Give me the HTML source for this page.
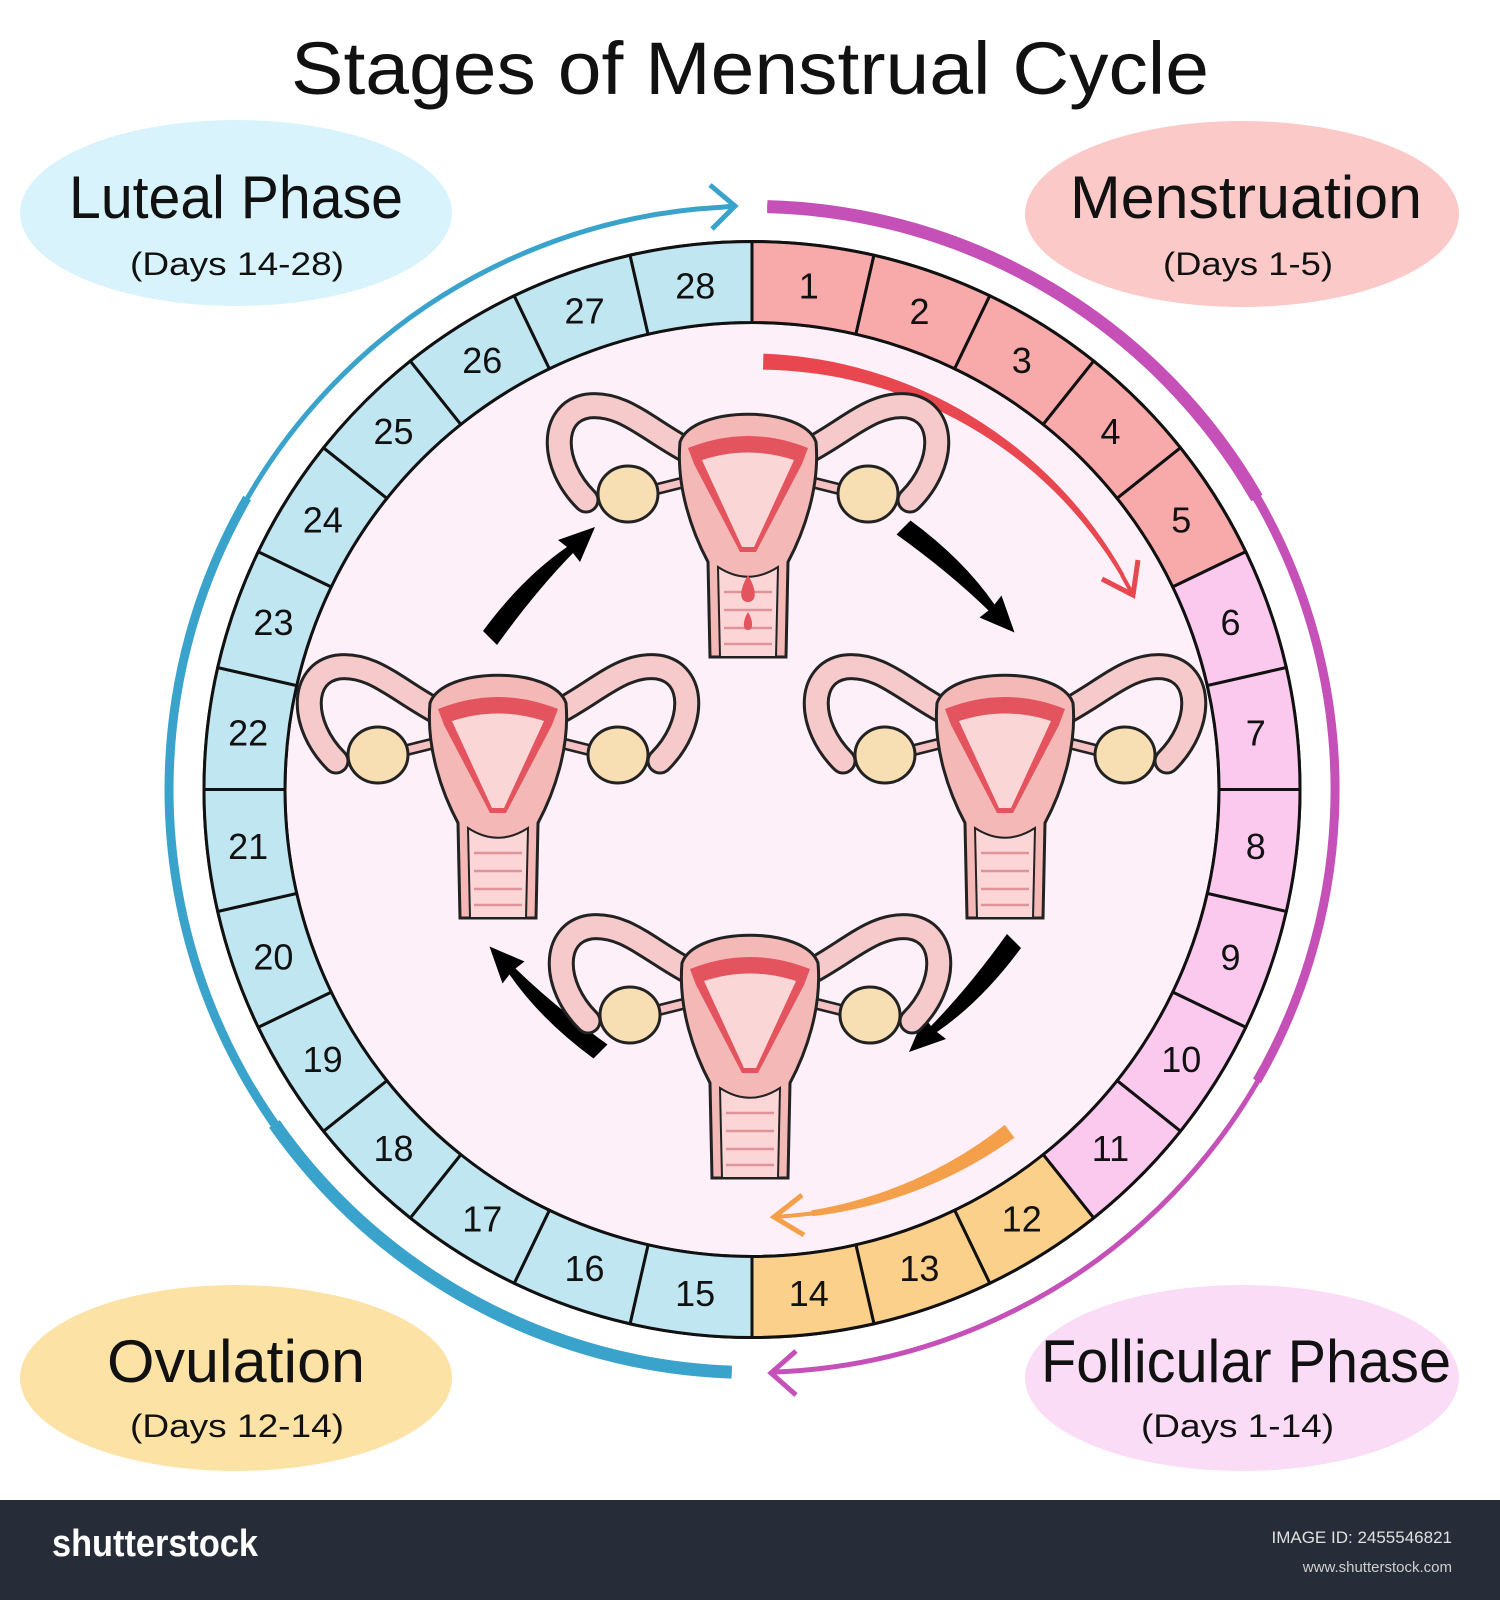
<!DOCTYPE html>
<html><head><meta charset="utf-8"><style>
html,body{margin:0;padding:0;background:#fff;}
svg{display:block;font-family:"Liberation Sans",sans-serif;}
</style></head><body>
<svg width="1500" height="1600" viewBox="0 0 1500 1600" xmlns="http://www.w3.org/2000/svg">
<defs>
  <g id="tube">
    <path d="M-58,50 C-100,28 -125,0 -160,4 C-198,10 -198,62 -162,98" fill="none" stroke="#222" stroke-width="27" stroke-linecap="round"/>
    <path d="M-58,50 C-100,28 -125,0 -160,4 C-198,10 -198,62 -162,98" fill="none" stroke="#f6c9cb" stroke-width="21" stroke-linecap="round"/>
    <path d="M-95,88 L-55,78" stroke="#222" stroke-width="12"/>
    <path d="M-95,88 L-55,78" stroke="#f6c1c3" stroke-width="7"/>
    <ellipse cx="-120" cy="92" rx="30" ry="28" fill="#f8dfb3" stroke="#222" stroke-width="3"/>
  </g>
  <g id="ut">
    <use href="#tube"/>
    <use href="#tube" transform="scale(-1,1)"/>
    <path d="M-68,40 C-55,3 55,3 68,40 C72,85 56,130 40,160 L38,255 L-38,255 L-40,160 C-56,130 -72,85 -68,40 Z" fill="#f4b8b6" stroke="#222" stroke-width="3"/>
    <path d="M-60,46 C-20,30 20,30 60,46 L54,62 L8,150 L-8,150 L-54,62 Z" fill="#e4545f"/>
    <path d="M-46,58 C-15,48 15,48 46,58 L6,145 L-6,145 Z" fill="#fbd6d6"/>
    <path d="M-30,165 C-10,178 10,178 30,165 L28,255 L-28,255 Z" fill="#fcd6d6" stroke="#222" stroke-width="2"/>
    <path d="M-24,190 H24 M-24,208 H24 M-24,226 H24 M-24,242 H24" stroke="#e0949a" stroke-width="2.5"/>
  </g>
  <path id="bl" d="M483,631 Q522,578 567,547 L558,540 L595,527 L580,562 L573,553 Q535,592 497,645 Z" fill="#000"/>
</defs>

<text x="750" y="94" font-size="74" text-anchor="middle" textLength="918" lengthAdjust="spacingAndGlyphs" fill="#111">Stages of Menstrual Cycle</text>

<!-- label ellipses -->
<ellipse cx="236" cy="213" rx="216" ry="93" fill="#d8f3fb"/>
<ellipse cx="1242" cy="214" rx="217" ry="93" fill="#fcc9c9"/>
<ellipse cx="236" cy="1378" rx="216" ry="93" fill="#fde2a6"/>
<ellipse cx="1242" cy="1378" rx="217" ry="93" fill="#fadcf6"/>
<g fill="#111">
<text x="69" y="218" font-size="60" textLength="334" lengthAdjust="spacingAndGlyphs">Luteal Phase</text>
<text x="130" y="275" font-size="32" textLength="214" lengthAdjust="spacingAndGlyphs">(Days 14-28)</text>
<text x="1070" y="218" font-size="60" textLength="352" lengthAdjust="spacingAndGlyphs">Menstruation</text>
<text x="1163" y="275" font-size="32" textLength="170" lengthAdjust="spacingAndGlyphs">(Days 1-5)</text>
<text x="107" y="1382" font-size="60" textLength="258" lengthAdjust="spacingAndGlyphs">Ovulation</text>
<text x="130" y="1437" font-size="32" textLength="214" lengthAdjust="spacingAndGlyphs">(Days 12-14)</text>
<text x="1041" y="1382" font-size="60" textLength="410" lengthAdjust="spacingAndGlyphs">Follicular Phase</text>
<text x="1141" y="1437" font-size="32" textLength="193" lengthAdjust="spacingAndGlyphs">(Days 1-14)</text>
</g>

<!-- outer arcs -->
<g fill="none" stroke="#3aa3cc">
<path d="M735,206 L721.5,207.3 A583,583 0 0 0 731.7,1372.1" stroke-width="5"/>
<path d="M247.1,498 A583,583 0 0 0 731.7,1372.1" stroke-width="9"/>
<path d="M274.4,1123.9 A583,583 0 0 0 731.7,1372.1" stroke-width="13"/>
<polyline points="710,185 735,206 712,229" stroke-width="5"/>
</g>
<g fill="none" stroke="#c551b8">
<path d="M767.3,206.6 A583,583 0 0 1 772.3,1372.1" stroke-width="5"/>
<path d="M767.3,206.6 A583,583 0 0 1 1256.9,1081" stroke-width="9"/>
<path d="M767.3,206.6 A583,583 0 0 1 1256.9,498" stroke-width="13"/>
<polyline points="796,1351 771,1373 796,1395" stroke-width="5"/>
</g>

<!-- ring -->
<g transform="translate(752,789.5)" stroke="#111" stroke-width="3">
<circle r="548" fill="#fff"/>
<circle r="467" fill="#fdf0f8"/>
</g>
<g transform="translate(752,789.5)" font-size="36" fill="#111" text-anchor="middle">
<g id="segs"></g>
</g>
<g transform="translate(752,789.5)" stroke="#111" stroke-width="3" font-size="36" text-anchor="middle">
<g transform="rotate(0)"><path d="M0,-548 A548,548 0 0 1 121.94,-534.26 L103.92,-455.30 A467,467 0 0 0 0,-467 Z" fill="#f8a9aa"/><text x="56.8" y="-491" transform="rotate(0,56.8,-503.8)" stroke="none" fill="#111">1</text></g>
<g transform="rotate(12.857)"><path d="M0,-548 A548,548 0 0 1 121.94,-534.26 L103.92,-455.30 A467,467 0 0 0 0,-467 Z" fill="#f8a9aa"/><text x="56.8" y="-491" transform="rotate(-12.857,56.8,-503.8)" stroke="none" fill="#111">2</text></g>
<g transform="rotate(25.714)"><path d="M0,-548 A548,548 0 0 1 121.94,-534.26 L103.92,-455.30 A467,467 0 0 0 0,-467 Z" fill="#f8a9aa"/><text x="56.8" y="-491" transform="rotate(-25.714,56.8,-503.8)" stroke="none" fill="#111">3</text></g>
<g transform="rotate(38.571)"><path d="M0,-548 A548,548 0 0 1 121.94,-534.26 L103.92,-455.30 A467,467 0 0 0 0,-467 Z" fill="#f8a9aa"/><text x="56.8" y="-491" transform="rotate(-38.571,56.8,-503.8)" stroke="none" fill="#111">4</text></g>
<g transform="rotate(51.429)"><path d="M0,-548 A548,548 0 0 1 121.94,-534.26 L103.92,-455.30 A467,467 0 0 0 0,-467 Z" fill="#f8a9aa"/><text x="56.8" y="-491" transform="rotate(-51.429,56.8,-503.8)" stroke="none" fill="#111">5</text></g>
<g transform="rotate(64.286)"><path d="M0,-548 A548,548 0 0 1 121.94,-534.26 L103.92,-455.30 A467,467 0 0 0 0,-467 Z" fill="#fbc8ee"/><text x="56.8" y="-491" transform="rotate(-64.286,56.8,-503.8)" stroke="none" fill="#111">6</text></g>
<g transform="rotate(77.143)"><path d="M0,-548 A548,548 0 0 1 121.94,-534.26 L103.92,-455.30 A467,467 0 0 0 0,-467 Z" fill="#fbc8ee"/><text x="56.8" y="-491" transform="rotate(-77.143,56.8,-503.8)" stroke="none" fill="#111">7</text></g>
<g transform="rotate(90)"><path d="M0,-548 A548,548 0 0 1 121.94,-534.26 L103.92,-455.30 A467,467 0 0 0 0,-467 Z" fill="#fbc8ee"/><text x="56.8" y="-491" transform="rotate(-90,56.8,-503.8)" stroke="none" fill="#111">8</text></g>
<g transform="rotate(102.857)"><path d="M0,-548 A548,548 0 0 1 121.94,-534.26 L103.92,-455.30 A467,467 0 0 0 0,-467 Z" fill="#fbc8ee"/><text x="56.8" y="-491" transform="rotate(-102.857,56.8,-503.8)" stroke="none" fill="#111">9</text></g>
<g transform="rotate(115.714)"><path d="M0,-548 A548,548 0 0 1 121.94,-534.26 L103.92,-455.30 A467,467 0 0 0 0,-467 Z" fill="#fbc8ee"/><text x="56.8" y="-491" transform="rotate(-115.714,56.8,-503.8)" stroke="none" fill="#111">10</text></g>
<g transform="rotate(128.571)"><path d="M0,-548 A548,548 0 0 1 121.94,-534.26 L103.92,-455.30 A467,467 0 0 0 0,-467 Z" fill="#fbc8ee"/><text x="56.8" y="-491" transform="rotate(-128.571,56.8,-503.8)" stroke="none" fill="#111">11</text></g>
<g transform="rotate(141.429)"><path d="M0,-548 A548,548 0 0 1 121.94,-534.26 L103.92,-455.30 A467,467 0 0 0 0,-467 Z" fill="#fbd08a"/><text x="56.8" y="-491" transform="rotate(-141.429,56.8,-503.8)" stroke="none" fill="#111">12</text></g>
<g transform="rotate(154.286)"><path d="M0,-548 A548,548 0 0 1 121.94,-534.26 L103.92,-455.30 A467,467 0 0 0 0,-467 Z" fill="#fbd08a"/><text x="56.8" y="-491" transform="rotate(-154.286,56.8,-503.8)" stroke="none" fill="#111">13</text></g>
<g transform="rotate(167.143)"><path d="M0,-548 A548,548 0 0 1 121.94,-534.26 L103.92,-455.30 A467,467 0 0 0 0,-467 Z" fill="#fbd08a"/><text x="56.8" y="-491" transform="rotate(-167.143,56.8,-503.8)" stroke="none" fill="#111">14</text></g>
<g transform="rotate(180)"><path d="M0,-548 A548,548 0 0 1 121.94,-534.26 L103.92,-455.30 A467,467 0 0 0 0,-467 Z" fill="#c0e6f1"/><text x="56.8" y="-491" transform="rotate(-180,56.8,-503.8)" stroke="none" fill="#111">15</text></g>
<g transform="rotate(192.857)"><path d="M0,-548 A548,548 0 0 1 121.94,-534.26 L103.92,-455.30 A467,467 0 0 0 0,-467 Z" fill="#c0e6f1"/><text x="56.8" y="-491" transform="rotate(-192.857,56.8,-503.8)" stroke="none" fill="#111">16</text></g>
<g transform="rotate(205.714)"><path d="M0,-548 A548,548 0 0 1 121.94,-534.26 L103.92,-455.30 A467,467 0 0 0 0,-467 Z" fill="#c0e6f1"/><text x="56.8" y="-491" transform="rotate(-205.714,56.8,-503.8)" stroke="none" fill="#111">17</text></g>
<g transform="rotate(218.571)"><path d="M0,-548 A548,548 0 0 1 121.94,-534.26 L103.92,-455.30 A467,467 0 0 0 0,-467 Z" fill="#c0e6f1"/><text x="56.8" y="-491" transform="rotate(-218.571,56.8,-503.8)" stroke="none" fill="#111">18</text></g>
<g transform="rotate(231.429)"><path d="M0,-548 A548,548 0 0 1 121.94,-534.26 L103.92,-455.30 A467,467 0 0 0 0,-467 Z" fill="#c0e6f1"/><text x="56.8" y="-491" transform="rotate(-231.429,56.8,-503.8)" stroke="none" fill="#111">19</text></g>
<g transform="rotate(244.286)"><path d="M0,-548 A548,548 0 0 1 121.94,-534.26 L103.92,-455.30 A467,467 0 0 0 0,-467 Z" fill="#c0e6f1"/><text x="56.8" y="-491" transform="rotate(-244.286,56.8,-503.8)" stroke="none" fill="#111">20</text></g>
<g transform="rotate(257.143)"><path d="M0,-548 A548,548 0 0 1 121.94,-534.26 L103.92,-455.30 A467,467 0 0 0 0,-467 Z" fill="#c0e6f1"/><text x="56.8" y="-491" transform="rotate(-257.143,56.8,-503.8)" stroke="none" fill="#111">21</text></g>
<g transform="rotate(270)"><path d="M0,-548 A548,548 0 0 1 121.94,-534.26 L103.92,-455.30 A467,467 0 0 0 0,-467 Z" fill="#c0e6f1"/><text x="56.8" y="-491" transform="rotate(-270,56.8,-503.8)" stroke="none" fill="#111">22</text></g>
<g transform="rotate(282.857)"><path d="M0,-548 A548,548 0 0 1 121.94,-534.26 L103.92,-455.30 A467,467 0 0 0 0,-467 Z" fill="#c0e6f1"/><text x="56.8" y="-491" transform="rotate(-282.857,56.8,-503.8)" stroke="none" fill="#111">23</text></g>
<g transform="rotate(295.714)"><path d="M0,-548 A548,548 0 0 1 121.94,-534.26 L103.92,-455.30 A467,467 0 0 0 0,-467 Z" fill="#c0e6f1"/><text x="56.8" y="-491" transform="rotate(-295.714,56.8,-503.8)" stroke="none" fill="#111">24</text></g>
<g transform="rotate(308.571)"><path d="M0,-548 A548,548 0 0 1 121.94,-534.26 L103.92,-455.30 A467,467 0 0 0 0,-467 Z" fill="#c0e6f1"/><text x="56.8" y="-491" transform="rotate(-308.571,56.8,-503.8)" stroke="none" fill="#111">25</text></g>
<g transform="rotate(321.429)"><path d="M0,-548 A548,548 0 0 1 121.94,-534.26 L103.92,-455.30 A467,467 0 0 0 0,-467 Z" fill="#c0e6f1"/><text x="56.8" y="-491" transform="rotate(-321.429,56.8,-503.8)" stroke="none" fill="#111">26</text></g>
<g transform="rotate(334.286)"><path d="M0,-548 A548,548 0 0 1 121.94,-534.26 L103.92,-455.30 A467,467 0 0 0 0,-467 Z" fill="#c0e6f1"/><text x="56.8" y="-491" transform="rotate(-334.286,56.8,-503.8)" stroke="none" fill="#111">27</text></g>
<g transform="rotate(347.143)"><path d="M0,-548 A548,548 0 0 1 121.94,-534.26 L103.92,-455.30 A467,467 0 0 0 0,-467 Z" fill="#c0e6f1"/><text x="56.8" y="-491" transform="rotate(-347.143,56.8,-503.8)" stroke="none" fill="#111">28</text></g>
</g>

<!-- red arrow -->
<path d="M763.4,353.6 A433,433 0 0 1 1124.4,574.5 L1120.9,576.5 A423,423 0 0 0 763.0,369.6 Z" fill="#e8474f"/>
<path d="M1122,575 L1133,595" stroke="#e8474f" stroke-width="4"/>
<polyline points="1138,560 1133,595 1102,579" fill="none" stroke="#e8474f" stroke-width="5"/>
<!-- orange arrow -->
<path d="M1014.4,1137.7 A433,433 0 0 1 812,1216.3 L811.2,1210.4 A423,423 0 0 0 1004.8,1124.9 Z" fill="#f4a04a"/>
<path d="M812,1213.5 Q790,1216 774,1217" fill="none" stroke="#f4a04a" stroke-width="4"/>
<polyline points="804,1235 774,1217 802,1195" fill="none" stroke="#f4a04a" stroke-width="5"/>

<!-- black arrows -->
<use href="#bl"/>
<use href="#bl" transform="rotate(90,752,789.5)"/>
<use href="#bl" transform="rotate(180,752,789.5)"/>
<use href="#bl" transform="rotate(270,752,789.5)"/>

<!-- uteri -->
<use href="#ut" transform="translate(748,402)"/>
<path d="M748,575 C738,592 740,602 748,602 C756,602 758,592 748,575 Z M748,612 C742,622 743,630 748,630 C753,630 754,622 748,612 Z" fill="#e4545f"/>
<use href="#ut" transform="translate(498,663)"/>
<use href="#ut" transform="translate(1005,663)"/>
<use href="#ut" transform="translate(750,923)"/>

<!-- footer -->
<rect x="0" y="1500" width="1500" height="100" fill="#272d38"/>
<text x="52" y="1556" font-size="38" font-weight="bold" fill="#fff" textLength="206" lengthAdjust="spacingAndGlyphs">shutterstock</text>
<text x="1452" y="1543" font-size="17" fill="#e0e0e0" text-anchor="end">IMAGE ID: 2455546821</text>
<text x="1452" y="1572" font-size="15" fill="#cfcfcf" text-anchor="end">www.shutterstock.com</text>
</svg>
</body></html>
